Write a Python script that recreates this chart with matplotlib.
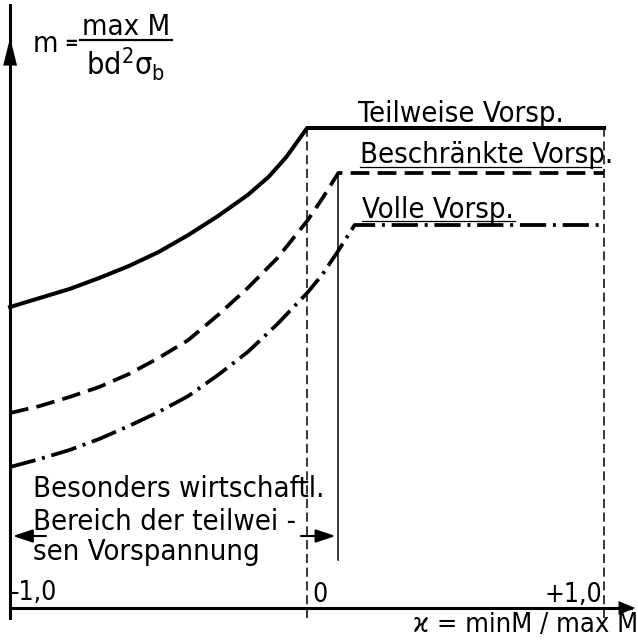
import numpy as np
import matplotlib.pyplot as plt

# chart values (x = minM/maxM, y = m in arbitrary units)
teil_x = [-1.0, -0.9, -0.8, -0.7, -0.6, -0.5, -0.4, -0.3, -0.2, -0.13, -0.07, 0.0, 1.0]
teil_y = [3.01, 3.10, 3.19, 3.30, 3.42, 3.56, 3.73, 3.92, 4.13, 4.31, 4.51, 4.80, 4.80]

besch_x = [-1.0, -0.9, -0.8, -0.7, -0.6, -0.5, -0.4, -0.3, -0.2, -0.1, 0.0, 0.05, 0.105, 1.0]
besch_y = [1.95, 2.02, 2.11, 2.21, 2.34, 2.50, 2.68, 2.93, 3.20, 3.50, 3.87, 4.09, 4.35, 4.35]

voll_x = [-1.0, -0.9, -0.8, -0.7, -0.6, -0.5, -0.4, -0.3, -0.2, -0.1, 0.0, 0.05, 0.10, 0.16, 1.0]
voll_y = [1.41, 1.49, 1.58, 1.69, 1.82, 1.96, 2.12, 2.33, 2.56, 2.84, 3.15, 3.33, 3.55, 3.83, 3.83]

ref_x = [0.0, 1.0]          # dashed verticals
limit_x = 0.105             # end of the "besonders wirtschaftl." range
tick_labels = ["-1,0", "0", "+1,0"]

plt.rcParams["font.family"] = ["DejaVu Sans"]
plt.rcParams["font.stretch"] = "condensed"
plt.rcParams["mathtext.fontset"] = "dejavusans"

fig = plt.figure(figsize=(6.38, 6.41), dpi=100)
ax = fig.add_axes([0, 0, 1, 1])
ax.set_xlim(-1.034, 1.114)
ax.set_ylim(-0.33, 6.08)
ax.axis("off")

# curves
ax.plot(teil_x, teil_y, color="k", lw=2.9, solid_joinstyle="miter")
ax.plot(besch_x, besch_y, color="k", lw=2.7, linestyle=(0, (5, 2.2)))
ax.plot(voll_x, voll_y, color="k", lw=2.7, linestyle=(0, (7, 1.8, 0.8, 1.8)))

# reference verticals
for x in ref_x:
    ax.plot([x, x], [-0.10, teil_y[-1]], color="k", lw=1.1, linestyle=(0, (6, 3)))
ax.plot([limit_x, limit_x], [0.48, besch_y[-1]], color="k", lw=1.1)

# axes
ax.plot([-1.0, -1.0], [-0.10, 6.03], color="k", lw=2.2)
ax.plot([-1.0, 1.09], [0, 0], color="k", lw=2.2)
ax.annotate("", xy=(-1.0, 5.73), xytext=(-1.0, 5.43),
            arrowprops=dict(arrowstyle="-|>,head_length=1.0,head_width=0.25",
                            mutation_scale=20, color="k", lw=0))
ax.annotate("", xy=(1.114, 0), xytext=(1.05, 0),
            arrowprops=dict(arrowstyle="-|>,head_length=0.6,head_width=0.25",
                            mutation_scale=20, color="k", lw=0))

# range arrows
ax.annotate("", xy=(-1.0, 0.72), xytext=(-0.87, 0.72),
            arrowprops=dict(arrowstyle="-|>,head_length=0.6,head_width=0.2",
                            mutation_scale=20, color="k", lw=1.5))
ax.annotate("", xy=(limit_x, 0.72), xytext=(-0.03, 0.72),
            arrowprops=dict(arrowstyle="-|>,head_length=0.6,head_width=0.2",
                            mutation_scale=20, color="k", lw=1.5))

fs = 21
# curve labels
ax.text(0.172, 4.86, "Teilweise Vorsp.", fontsize=fs)
ax.text(0.178, 4.45, "Beschränkte Vorsp.", fontsize=fs)
ax.plot([0.178, 0.99], [4.41, 4.41], color="k", lw=0.9)
ax.text(0.185, 3.90, "Volle Vorsp.", fontsize=fs)
ax.plot([0.185, 0.70], [3.87, 3.87], color="k", lw=0.9)

# range text
ax.text(-0.923, 1.11, "Besonders wirtschaftl.", fontsize=fs)
ax.text(-0.923, 0.78, "Bereich der teilwei -", fontsize=fs)
ax.text(-0.923, 0.48, "sen Vorspannung", fontsize=fs)

# tick labels
ax.text(-0.997, 0.08, tick_labels[0], fontsize=19)
ax.text(0.017, 0.06, tick_labels[1], fontsize=19)
ax.text(0.993, 0.06, tick_labels[2], fontsize=19, ha="right")

# axis labels
ax.text(1.114, -0.24, "ϰ = minM / max M", fontsize=19.5, ha="right")
ax.text(-0.923, 5.56, "m", fontsize=21)
ax.text(-0.818, 5.585, "=", fontsize=13, fontweight="bold")
ax.text(-0.61, 5.73, "max M", fontsize=21, ha="center")
ax.plot([-0.764, -0.455], [5.68, 5.68], color="k", lw=1.6)
ax.text(-0.61, 5.33, r"$\mathregular{bd^2\sigma_b}$", fontsize=22, ha="center")

fig.savefig("out.png", dpi=100)
